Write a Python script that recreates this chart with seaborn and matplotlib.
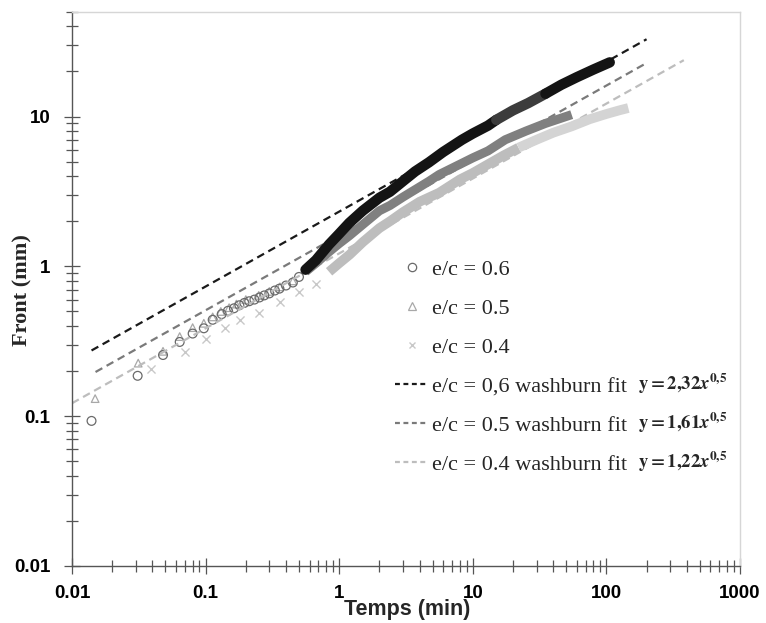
import matplotlib
matplotlib.use("Agg")
import matplotlib.pyplot as plt
import matplotlib.ticker as mticker
from matplotlib.lines import Line2D
import seaborn as sns

# e/c = 0.6 (circles) - time (min) / front (mm)
t_06 = [0.014, 0.031, 0.048, 0.064, 0.080, 0.097, 0.113, 0.132, 0.147, 0.163,
        0.179, 0.195, 0.212, 0.232, 0.253, 0.275, 0.30, 0.33, 0.357, 0.40,
        0.45, 0.50, 0.56, 0.67, 0.84, 1.0, 1.19, 1.5, 2.0, 2.4, 3.0, 3.7,
        4.7, 6.0, 8.3, 10, 13, 15, 20, 26, 35, 46, 60, 80, 106]
f_06 = [0.093, 0.186, 0.256, 0.313, 0.356, 0.386, 0.44, 0.48, 0.505, 0.525,
        0.55, 0.57, 0.585, 0.60, 0.62, 0.64, 0.66, 0.69, 0.71, 0.745,
        0.78, 0.85, 0.95, 1.10, 1.40, 1.65, 1.95, 2.35, 2.87, 3.15, 3.7, 4.3,
        4.95, 5.8, 7.0, 7.7, 8.7, 9.5, 11.0, 12.3, 14.2, 16.3, 18.3, 20.6, 23.0]

# e/c = 0.5 (triangles)
t_05 = [0.0149, 0.0313, 0.048, 0.064, 0.080, 0.097, 0.113, 0.13, 0.15, 0.17,
        0.20, 0.25, 0.30, 0.36, 0.45, 0.56, 0.67, 0.84, 1.0, 1.19, 1.5, 2.0,
        2.4, 3.0, 3.7, 4.7, 5.6, 8.0, 10, 13, 17.5, 25, 35, 45, 55]
f_05 = [0.131, 0.226, 0.271, 0.34, 0.39, 0.417, 0.46, 0.50, 0.53, 0.56,
        0.60, 0.64, 0.68, 0.73, 0.80, 0.92, 1.05, 1.25, 1.42, 1.60, 1.90, 2.35,
        2.55, 2.9, 3.25, 3.7, 4.1, 4.8, 5.3, 5.9, 7.0, 8.0, 9.0, 9.7, 10.3]

# e/c = 0.4 (crosses)
t_04 = [0.039, 0.07, 0.10, 0.14, 0.18, 0.25, 0.36, 0.50, 0.67, 0.84, 1.0,
        1.2, 1.5, 2.0, 2.4, 3.0, 4.0, 5.6, 8.0, 10, 13, 17, 22, 30, 40, 55,
        75, 100, 125, 146]
f_04 = [0.206, 0.27, 0.33, 0.39, 0.44, 0.49, 0.575, 0.67, 0.76, 0.92, 1.05,
        1.2, 1.45, 1.8, 2.0, 2.3, 2.7, 3.1, 3.8, 4.2, 4.8, 5.5, 6.2, 7.0, 7.8,
        8.6, 9.6, 10.4, 11.0, 11.4]

# washburn fits y = k * t^0.5
fit_k = [2.32, 1.61, 1.22]
fit_t0 = [0.014, 0.015, 0.01]
fit_t1 = [200, 200, 380]
fit_names = ["e/c = 0,6 washburn fit", "e/c = 0.5 washburn fit", "e/c = 0.4 washburn fit"]
fit_eq = [r"$\mathbf{y = 2{,}32}\mathbfit{x}^{\mathbf{0{,}5}}$",
          r"$\mathbf{y = 1{,}61}\mathbfit{x}^{\mathbf{0{,}5}}$",
          r"$\mathbf{y = 1{,}22}\mathbfit{x}^{\mathbf{0{,}5}}$"]
fit_colors = ["#1a1a1a", "#7a7a7a", "#bdbdbd"]

sns.set_theme(style="white")
plt.rcParams["font.family"] = ["Liberation Sans", "DejaVu Sans"]
plt.rcParams["mathtext.fontset"] = "stix"

fig, ax = plt.subplots(figsize=(7.66, 6.23), dpi=100)
fig.subplots_adjust(left=0.094, right=0.966, bottom=0.0915, top=0.981)


def split(t, f, t_band):
    pts = [(a, b) for a, b in zip(t, f) if a < t_band]
    band = [(a, b) for a, b in zip(t, f) if a >= t_band]
    return pts, band


# fit lines
for k, a, b, c in zip(fit_k, fit_t0, fit_t1, fit_colors):
    sns.lineplot(x=[a, b], y=[k * a ** 0.5, k * b ** 0.5], color=c, lw=1.6,
                 dashes=(3.5, 2.2), ax=ax, legend=False)

# e/c = 0.4
pts, band = split(t_04, f_04, 0.84)
band_a = [p for p in band if p[0] <= 22]
band_b = [p for p in band if p[0] >= 22]
sns.lineplot(x=[p[0] for p in band_a], y=[p[1] for p in band_a], color="#bdbdbd",
             lw=7, ax=ax, legend=False, estimator=None, sort=False,
             solid_capstyle="butt")
sns.lineplot(x=[p[0] for p in band_b], y=[p[1] for p in band_b], color="#d4d4d4",
             lw=7, ax=ax, legend=False, estimator=None, sort=False,
             solid_capstyle="butt")
sns.scatterplot(x=[p[0] for p in pts], y=[p[1] for p in pts], marker="x", s=34,
                color="#c8c8c8", linewidth=1.0, ax=ax, legend=False)

# e/c = 0.5
pts, band = split(t_05, f_05, 0.56)
sns.lineplot(x=[p[0] for p in band], y=[p[1] for p in band], color="#808080",
             lw=6.5, ax=ax, legend=False, estimator=None, sort=False,
             solid_capstyle="butt")
sns.scatterplot(x=[p[0] for p in pts], y=[p[1] for p in pts], marker="^", s=30,
                facecolor="none", edgecolor="#a8a8a8", linewidth=0.9, ax=ax, legend=False)

# e/c = 0.6
pts, band = split(t_06, f_06, 0.56)
band_a = [p for p in band if p[0] <= 15]
band_b = [p for p in band if 15 <= p[0] <= 35]
band_c = [p for p in band if p[0] >= 35]
for seg, col in [(band_a, "#141414"), (band_b, "#3c3c3c"), (band_c, "#141414")]:
    sns.lineplot(x=[p[0] for p in seg], y=[p[1] for p in seg], color=col,
                 lw=7.5, ax=ax, legend=False, estimator=None, sort=False,
                 solid_capstyle="round")
sns.scatterplot(x=[p[0] for p in pts], y=[p[1] for p in pts], marker="o", s=40,
                facecolor="none", edgecolor="#6a6a6a", linewidth=0.9, ax=ax, legend=False)

ax.set_xscale("log")
ax.set_yscale("log")
ax.set_xlim(0.01, 1000)
ax.set_ylim(0.01, 50)
ax.xaxis.set_major_locator(mticker.FixedLocator([0.01, 0.1, 1, 10, 100, 1000]))
ax.yaxis.set_major_locator(mticker.FixedLocator([0.01, 0.1, 1, 10]))
ax.xaxis.set_minor_locator(mticker.LogLocator(base=10, subs=range(2, 10), numticks=20))
ax.yaxis.set_minor_locator(mticker.LogLocator(base=10, subs=range(2, 10), numticks=20))
fmt = mticker.FuncFormatter(lambda v, p: f"{v:g}")
ax.xaxis.set_major_formatter(fmt)
ax.yaxis.set_major_formatter(fmt)
ax.xaxis.set_minor_formatter(mticker.NullFormatter())
ax.yaxis.set_minor_formatter(mticker.NullFormatter())
ax.tick_params(which="both", direction="inout", color="#555555", width=0.9,
               left=True, bottom=True)
ax.tick_params(which="major", length=11)
ax.tick_params(which="minor", length=9)
ax.tick_params(axis="x", pad=8)
ax.tick_params(axis="y", pad=10)
for lab in ax.get_xticklabels() + ax.get_yticklabels():
    lab.set_fontweight("bold")
    lab.set_fontsize(13.5)
    lab.set_color("black")
for s in ["left", "bottom"]:
    ax.spines[s].set_color("#555555")
    ax.spines[s].set_linewidth(1.0)
for s in ["top", "right"]:
    ax.spines[s].set_color("#d6d6d6")
    ax.spines[s].set_linewidth(1.0)
ax.set_xlabel("")
ax.set_ylabel("")

fig.text(22 / 766, 1 - 290 / 623, "Front (mm)", rotation=90, ha="center", va="center",
         fontsize=16, fontweight="bold", family=["Liberation Serif"])
fig.text(407 / 766, 1 - 609 / 623, "Temps (min)", ha="center", va="center",
         fontsize=15.5, fontweight="bold")

handles = [
    Line2D([], [], ls="none", marker="o", mfc="none", mec="#6a6a6a", ms=6, mew=0.9),
    Line2D([], [], ls="none", marker="^", mfc="none", mec="#a8a8a8", ms=6, mew=0.9),
    Line2D([], [], ls="none", marker="x", color="#c8c8c8", ms=5, mew=1.0),
] + [Line2D([], [], color=c, lw=1.6, dashes=(2.2, 1.6)) for c in fit_colors]
labels = ["e/c = 0.6", "e/c = 0.5", "e/c = 0.4"] + fit_names
ax.legend(handles, labels, loc="upper left", bbox_to_anchor=(0.4835, 0.553),
          frameon=False, borderpad=0, borderaxespad=0, handlelength=1.5,
          handletextpad=0.15, labelspacing=0.83,
          prop={"family": "Liberation Serif", "size": 16})

for i, eq in enumerate(fit_eq):
    fig.text(638 / 766, 1 - (384 + 38.7 * i) / 623, eq, ha="left", va="center",
             fontsize=13.5)

fig.savefig("out.png", dpi=100)
